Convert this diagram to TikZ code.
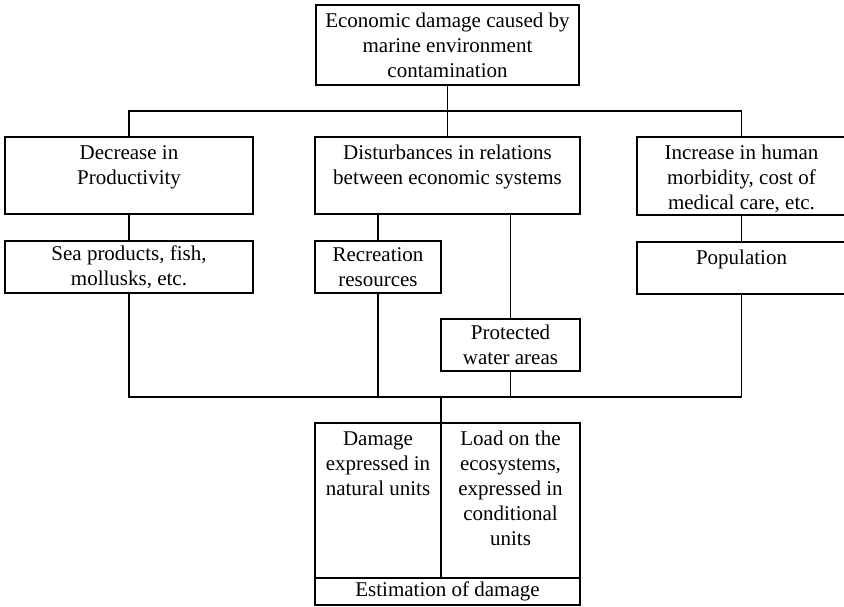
\documentclass[tikz,border=0pt]{standalone}
\usepackage{fontspec}
\setmainfont{Liberation Serif}
\usetikzlibrary{positioning}
\tikzset{
  box/.style={draw, line width=1.6pt, inner sep=0pt},
  txt/.style={align=center, inner sep=0pt, font=\fontsize{21}{25}\selectfont},
  link/.style={line width=1.2pt}
}
\begin{document}
\begin{tikzpicture}[x=1pt, y=-1pt]
  \useasboundingbox (0,0) rectangle (844,606);
  % top box
  \node[box, txt, minimum width=263, minimum height=80] (top) at (447.5,45) {Economic damage caused by\\marine environment\\contamination};
  % second row
  \node[box, minimum width=248, minimum height=77] (dec) at (129,175.5) {};
  \node[txt, below=9pt of dec.north] (dectxt) {Decrease in\\Productivity};
  \node[box, minimum width=265, minimum height=77] (dis) at (447.5,175.5) {};
  \node[txt, below=9pt of dis.north] (distxt) {Disturbances in relations\\between economic systems};
  \node[box, minimum width=209, minimum height=78] (inc) at (741.5,176) {};
  \node[txt, below=9pt of inc.north] (inctxt) {Increase in human\\morbidity, cost of\\medical care, etc.};
  % third row
  \node[box, txt, minimum width=248, minimum height=52] (sea) at (129,267) {Sea products, fish,\\mollusks, etc.};
  \node[box, txt, minimum width=126, minimum height=52] (rec) at (378,267) {Recreation\\resources};
  \node[box, minimum width=209, minimum height=52] (pop) at (741.5,268) {};
  \node[txt, below=9pt of pop.north] (poptxt) {Population};
  \node[box, txt, minimum width=139, minimum height=52] (pro) at (510.5,345) {Protected\\water areas};
  % estimation block
  \node[box, minimum width=126, minimum height=155] (dmg) at (378,500.5) {};
  \node[txt, below=9pt of dmg.north] (dmgtxt) {Damage\\expressed in\\natural units};
  \node[box, minimum width=139, minimum height=155] (load) at (510.5,500.5) {};
  \node[txt, below=9pt of load.north] (loadtxt) {Load on the\\ecosystems,\\expressed in\\conditional\\units};
  \node[box, txt, minimum width=265, minimum height=27] (est) at (447.5,591.5) {Estimation of damage};
  % connectors
  \coordinate (j1) at (447.5,111);
  \coordinate (j2) at (441,397);
  \draw[link] (top) -- (dis);
  \draw[link] (dec.north) |- (j1) -| (inc.north);
  \draw[link] (dec) -- (sea);
  \draw[link] (inc) -- (pop);
  \draw[link] (rec.north) -- (rec.north |- dis.south);
  \draw[link] (pro.north) -- (pro.north |- dis.south);
  \draw[link] (sea.south) |- (j2) -| (pop.south);
  \draw[link] (rec.south) -- (rec.south |- j2);
  \draw[link] (pro.south) -- (pro.south |- j2);
  \draw[link] (j2) -- (j2 |- dmg.north);
\end{tikzpicture}
\end{document}
